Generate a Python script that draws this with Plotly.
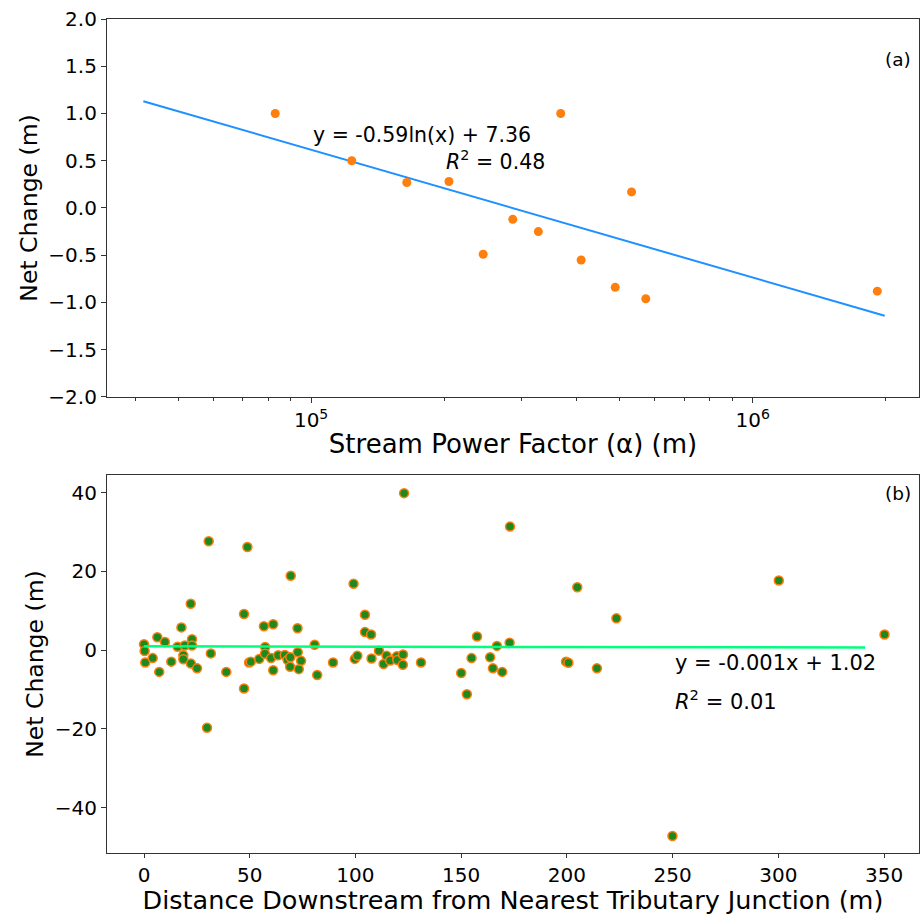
import plotly.graph_objects as go
from plotly.subplots import make_subplots
import numpy as np

# ---- Panel (a) data ----
stream_power = [82950, 123600, 164700, 205200, 245300, 286200, 327000,
                367500, 408800, 488300, 531700, 572700, 1915000]
net_change_a = [1.00, 0.50, 0.27, 0.28, -0.49, -0.12, -0.25,
                1.00, -0.55, -0.84, 0.17, -0.96, -0.88]
fit_a_x = [41700, 1990000]
fit_a_y = [1.13, -1.14]

# ---- Panel (b) data ----
distance = [0.0, 0.3, 0.6, 4.1, 6.3, 7.2, 9.9, 12.9, 15.9, 17.7, 18.6, 18.6, 19.3,
            22.1, 22.2, 22.7, 22.7, 25.1, 29.8, 30.6, 31.6, 38.9,
            47.3, 47.3, 48.9, 49.7, 50.5, 54.5, 56.7, 57.3, 57.2, 60.1, 61.1, 61.1,
            63.4, 66.6, 67.9, 69.2, 69.1, 69.4, 72.6, 72.7, 73.2, 74.3, 80.7, 81.9, 89.4,
            99.1, 99.7, 100.9, 104.5, 104.5, 107.4, 107.6, 111.1, 113.3, 114.7, 116.4,
            119.6, 119.8, 122.5, 122.4, 123.0, 131.0,
            150.0, 152.7, 154.9, 157.5, 163.7, 165.0, 166.9, 169.4, 172.9, 173.1,
            199.6, 200.7, 204.9, 214.2, 223.4, 249.9, 300.2, 350.2]
net_change_b = [1.5, -0.2, -3.1, -2.0, 3.3, -5.5, 2.1, -2.9, 0.9, 5.8, -1.3, -2.3, 1.2,
                11.8, -3.4, 2.8, 1.2, -4.6, -19.7, 27.7, -0.8, -5.5,
                9.2, -9.7, 26.2, -3.1, -2.9, -2.2, 6.1, 0.8, -0.9, -2.0, 6.6, -5.1,
                -1.3, -1.2, -2.5, -1.8, -4.2, 18.9, 5.6, -0.5, -4.8, -2.7, 1.4, -6.3, -3.1,
                16.9, -2.2, -1.4, 9.0, 4.6, 4.0, -2.1, -0.1, -3.5, -1.4, -2.6,
                -1.5, -2.5, -1.1, -3.7, 39.9, -3.1,
                -5.8, -11.2, -2.0, 3.5, -1.8, -4.6, 1.1, -5.5, 1.9, 31.4,
                -2.9, -3.2, 16.0, -4.6, 8.1, -47.2, 17.7, 4.0]
fit_b_x = [0, 341]
fit_b_y = [1.02, 0.68]

FONT = "DejaVu Sans"
AXC = "#333333"

fig = make_subplots(rows=2, cols=1, vertical_spacing=0.0936)

fig.add_trace(go.Scatter(x=fit_a_x, y=fit_a_y, mode="lines",
                         line=dict(color="#1e90ff", width=2), showlegend=False),
              row=1, col=1)
fig.add_trace(go.Scatter(x=stream_power, y=net_change_a, mode="markers",
                         marker=dict(color="#ff7f0e", size=9), showlegend=False),
              row=1, col=1)

fig.add_trace(go.Scatter(x=distance, y=net_change_b, mode="markers",
                         marker=dict(color="#1e8a1e", size=9,
                                     line=dict(color="#ff7f0e", width=1.5)),
                         showlegend=False), row=2, col=1)
fig.add_trace(go.Scatter(x=fit_b_x, y=fit_b_y, mode="lines",
                         line=dict(color="#00ff7f", width=2.5), showlegend=False),
              row=2, col=1)

common = dict(showgrid=False, zeroline=False, showline=True, linecolor=AXC,
              linewidth=1.2, mirror=True, ticks="outside",
              tickcolor=AXC, tickfont=dict(family=FONT, size=20, color="black"))

fig.update_xaxes(type="log", range=[np.log10(34500), np.log10(2.38e6)],
                 tickvals=[1e5, 1e6], ticktext=["10<sup>5</sup>", "10<sup>6</sup>"],
                 ticklen=5,
                 minor=dict(ticks="outside", ticklen=3, tickcolor=AXC, dtick="D1"),
                 title=dict(text="Stream Power Factor (α) (m)",
                            font=dict(family=FONT, size=26, color="black"), standoff=3),
                 row=1, col=1, **common)
fig.update_yaxes(range=[-2, 2], dtick=0.5, tickformat=".1f", ticklen=5,
                 title=dict(text="Net Change (m)",
                            font=dict(family=FONT, size=23.5, color="black"), standoff=4),
                 row=1, col=1, **common)
fig.update_xaxes(range=[-17.5, 366.5], dtick=50, ticklen=4,
                 title=dict(text="Distance Downstream from Nearest Tributary Junction (m)",
                            font=dict(family=FONT, size=25.5, color="black"), standoff=6),
                 row=2, col=1, **common)
fig.update_yaxes(range=[-51.5, 44.5], tickvals=[-40, -20, 0, 20, 40], ticklen=5,
                 title=dict(text="Net Change (m)",
                            font=dict(family=FONT, size=23.5, color="black"), standoff=4),
                 row=2, col=1, **common)

fig.update_layout(
    width=923, height=915,
    margin=dict(l=107, r=4, t=19, b=62),
    paper_bgcolor="white", plot_bgcolor="white",
    font=dict(family=FONT, color="black"),
)
fig.layout.yaxis.domain = [0.5468, 1.0]
fig.layout.yaxis2.domain = [0.0, 0.4532]

afont = dict(family=FONT, size=20.5, color="black")
fig.add_annotation(x=5.0, y=0.77, xref="x", yref="y", text="y = -0.59ln(x) + 7.36",
                   showarrow=False, xanchor="left", yanchor="middle", font=afont)
fig.add_annotation(x=np.log10(2.0e5), y=0.50, xref="x", yref="y",
                   text="<i>R</i><sup>2</sup> = 0.48",
                   showarrow=False, xanchor="left", yanchor="middle", font=afont)
fig.add_annotation(x=0.992, y=1.57, xref="x domain", yref="y", text="(a)",
                   showarrow=False, xanchor="right", yanchor="middle",
                   font=dict(family=FONT, size=18.5, color="black"))
fig.add_annotation(x=250, y=-3.3, xref="x2", yref="y2", text="y = -0.001x + 1.02",
                   showarrow=False, xanchor="left", yanchor="middle",
                   font=dict(family=FONT, size=21, color="black"))
fig.add_annotation(x=250, y=-12.7, xref="x2", yref="y2",
                   text="<i>R</i><sup>2</sup> = 0.01",
                   showarrow=False, xanchor="left", yanchor="middle",
                   font=dict(family=FONT, size=21, color="black"))
fig.add_annotation(x=0.992, y=39.8, xref="x2 domain", yref="y2", text="(b)",
                   showarrow=False, xanchor="right", yanchor="middle",
                   font=dict(family=FONT, size=18.5, color="black"))

fig.write_html("out.html")
